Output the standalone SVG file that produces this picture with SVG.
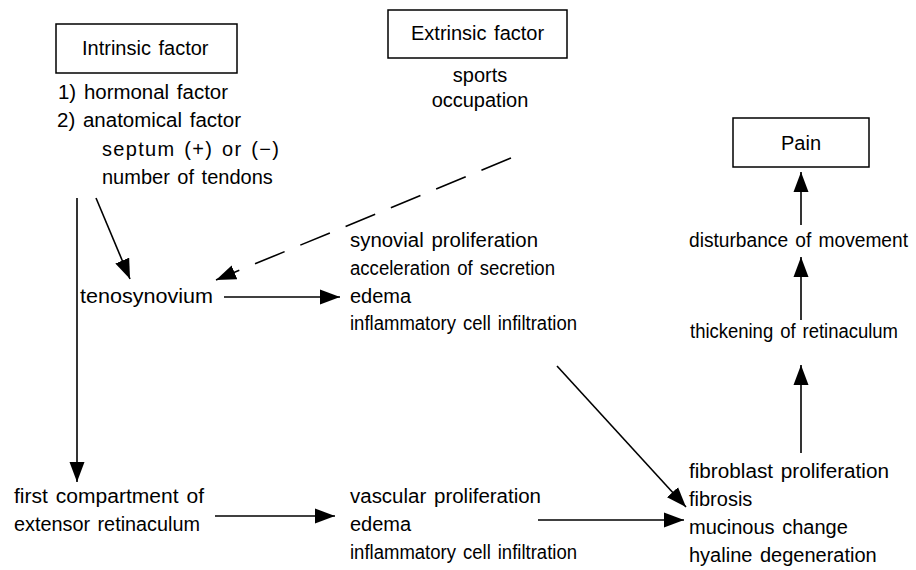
<svg xmlns="http://www.w3.org/2000/svg" width="916" height="570" viewBox="0 0 916 570">
<defs>
<marker id="ah" markerUnits="userSpaceOnUse" markerWidth="22" markerHeight="16" refX="20" refY="8" orient="auto">
<path d="M0,0.5 L20,8 L0,15.5 Z" fill="#000"/>
</marker>
<style>
text{font-family:"Liberation Sans",Arial,sans-serif;font-size:20px;fill:#000;word-spacing:2px}
.box{fill:#fff;stroke:#000;stroke-width:1.5}
.ln{stroke:#000;stroke-width:1.6;fill:none}
.dash{stroke-dasharray:32 17}
</style>
</defs>
<rect width="916" height="570" fill="#fff"/>
<g id="intrinsic">
<rect class="box" x="56" y="24" width="181" height="49"/>
<text x="82" y="55">Intrinsic factor</text>
<text x="58" y="99" textLength="170" lengthAdjust="spacingAndGlyphs">1) hormonal factor</text>
<text x="57" y="127" textLength="184" lengthAdjust="spacingAndGlyphs">2) anatomical factor</text>
<text x="102" y="156" textLength="177" lengthAdjust="spacing">septum (+) or (−)</text>
<text x="102" y="184">number of tendons</text>
</g>
<g id="extrinsic">
<rect class="box" x="388" y="10" width="179" height="48"/>
<text x="411" y="40">Extrinsic factor</text>
<text x="480" y="82" text-anchor="middle">sports</text>
<text x="480" y="107" text-anchor="middle">occupation</text>
</g>
<g id="pain">
<rect class="box" x="733" y="118" width="136" height="49"/>
<text x="801" y="150" text-anchor="middle">Pain</text>
</g>
<g id="disturbance"><text x="689" y="247" textLength="219" lengthAdjust="spacingAndGlyphs">disturbance of movement</text></g>
<g id="thickening"><text x="690" y="338" textLength="208" lengthAdjust="spacingAndGlyphs">thickening of retinaculum</text></g>
<g id="tenosynovium"><text x="80" y="303" textLength="133" lengthAdjust="spacingAndGlyphs">tenosynovium</text></g>
<g id="synovial">
<text x="350" y="247" textLength="188" lengthAdjust="spacingAndGlyphs">synovial proliferation</text>
<text x="350" y="275" textLength="205" lengthAdjust="spacingAndGlyphs">acceleration of secretion</text>
<text x="350" y="303">edema</text>
<text x="350" y="330" textLength="227" lengthAdjust="spacingAndGlyphs">inflammatory cell infiltration</text>
</g>
<g id="compartment">
<text x="14" y="503" textLength="190" lengthAdjust="spacingAndGlyphs">first compartment of</text>
<text x="14" y="531" textLength="186" lengthAdjust="spacingAndGlyphs">extensor retinaculum</text>
</g>
<g id="vascular">
<text x="350" y="503" textLength="191" lengthAdjust="spacingAndGlyphs">vascular proliferation</text>
<text x="350" y="531">edema</text>
<text x="350" y="559" textLength="227" lengthAdjust="spacingAndGlyphs">inflammatory cell infiltration</text>
</g>
<g id="fibro">
<text x="689" y="478" textLength="200" lengthAdjust="spacingAndGlyphs">fibroblast proliferation</text>
<text x="689" y="506">fibrosis</text>
<text x="689" y="534">mucinous change</text>
<text x="689" y="562">hyaline degeneration</text>
</g>
<g id="connectors">
<line class="ln" x1="77" y1="198" x2="77" y2="482" marker-end="url(#ah)"/>
<line class="ln" x1="96" y1="198" x2="130" y2="279" marker-end="url(#ah)"/>
<line class="ln dash" x1="511" y1="158" x2="216" y2="280" marker-end="url(#ah)"/>
<line class="ln" x1="224" y1="297" x2="340" y2="297" marker-end="url(#ah)"/>
<line class="ln" x1="557" y1="366" x2="686" y2="507" marker-end="url(#ah)"/>
<line class="ln" x1="215" y1="516" x2="335" y2="516" marker-end="url(#ah)"/>
<line class="ln" x1="538" y1="520" x2="684" y2="520" marker-end="url(#ah)"/>
<line class="ln" x1="801" y1="453" x2="801" y2="365" marker-end="url(#ah)"/>
<line class="ln" x1="801" y1="320" x2="801" y2="257" marker-end="url(#ah)"/>
<line class="ln" x1="801" y1="225" x2="801" y2="172" marker-end="url(#ah)"/>
</g>
</svg>
